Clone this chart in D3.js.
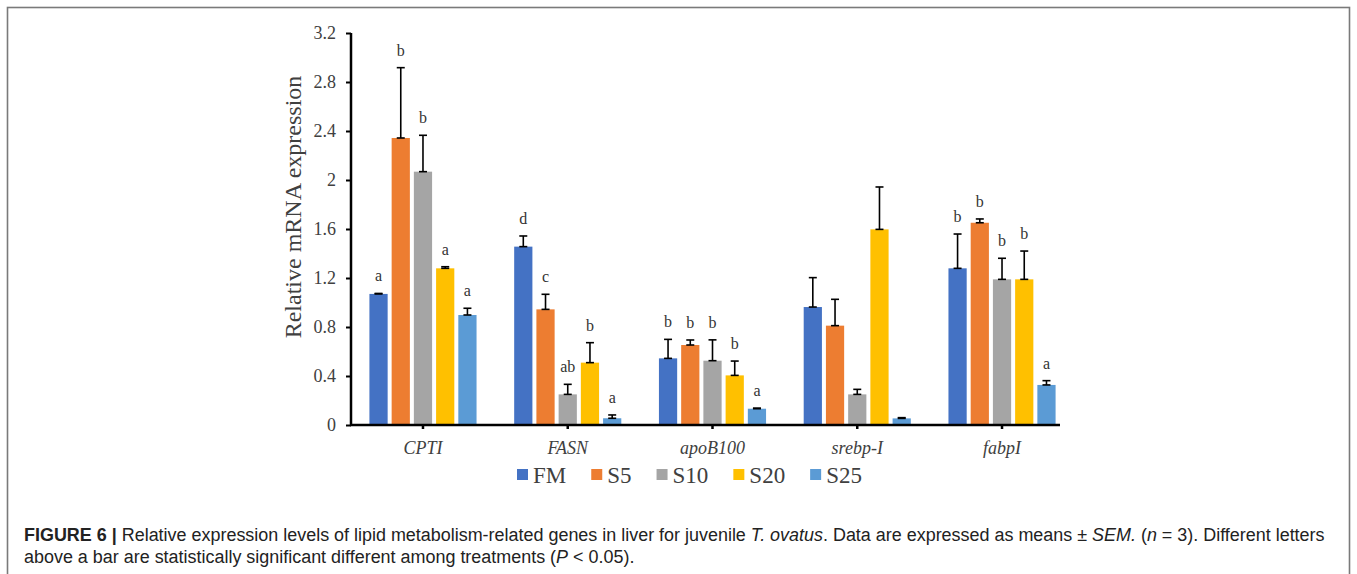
<!DOCTYPE html>
<html>
<head>
<meta charset="utf-8">
<script src="https://cdn.jsdelivr.net/npm/d3@7"></script>
<style>
  body { margin: 0; background: #fff; }
  svg { display: block; }
</style>
</head>
<body>
<script>
const WIDTH = 1357;
const HEIGHT = 574;

var genes = ['CPTI', 'FASN', 'apoB100', 'srebp-I', 'fabpI'];
var groups = ['FM', 'S5', 'S10', 'S20', 'S25'];
var colors = ['#4472C4', '#ED7D31', '#A5A5A5', '#FFC000', '#5B9BD5'];
var yTicks = [0, 0.4, 0.8, 1.2, 1.6, 2, 2.4, 2.8, 3.2];

// means per treatment, in gene order
var fmMeans  = [1.07, 1.456, 0.544, 0.963, 1.279];
var s5Means  = [2.343, 0.944, 0.653, 0.811, 1.651];
var s10Means = [2.068, 0.25, 0.525, 0.25, 1.189];
var s20Means = [1.279, 0.509, 0.405, 1.597, 1.189];
var s25Means = [0.898, 0.055, 0.133, 0.054, 0.327];

// SEM per treatment
var fmErr  = [0.004, 0.087, 0.155, 0.24, 0.28];
var s5Err  = [0.574, 0.123, 0.041, 0.215, 0.031];
var s10Err = [0.297, 0.082, 0.17, 0.041, 0.172];
var s20Err = [0.013, 0.163, 0.117, 0.346, 0.231];
var s25Err = [0.055, 0.027, 0.005, 0.006, 0.035];

// significance letters per gene (FM..S25)
var cptiLetters  = ['a', 'b', 'b', 'a', 'a'];
var fasnLetters  = ['d', 'c', 'ab', 'b', 'a'];
var apobLetters  = ['b', 'b', 'b', 'b', 'a'];
var srebpLetters = ['', '', '', '', ''];
var fabpLetters  = ['b', 'b', 'b', 'b', 'a'];

var means = [fmMeans, s5Means, s10Means, s20Means, s25Means];
var errs = [fmErr, s5Err, s10Err, s20Err, s25Err];
var letters = [cptiLetters, fasnLetters, apobLetters, srebpLetters, fabpLetters];

var serif = '"Liberation Serif", "Times New Roman", serif';
var sans = '"Liberation Sans", Arial, Helvetica, sans-serif';

var svg = d3.select('body').append('svg')
    .attr('width', WIDTH)
    .attr('height', HEIGHT);

// figure frame
svg.append('rect')
    .attr('x', 7.5).attr('y', 7.5)
    .attr('width', 1342).attr('height', 620)
    .attr('fill', 'none')
    .attr('stroke', '#7a7a7a')
    .attr('stroke-width', 1.6);

var x0 = d3.scaleBand()
    .domain(genes)
    .range([350.6, 1074.4])
    .paddingInner(0.26)
    .paddingOuter(0.13);

var x1 = d3.scaleBand()
    .domain(groups)
    .range([0, x0.bandwidth()])
    .paddingInner(0.18);

var y = d3.scaleLinear()
    .domain([0, 3.2])
    .range([425, 33]);

var rows = [];
genes.forEach(function(g, gi) {
    groups.forEach(function(s, si) {
        rows.push({gene: g, group: s, si: si, v: means[si][gi], e: errs[si][gi], l: letters[gi][si]});
    });
});

var plot = svg.append('g');

// bars
plot.selectAll('rect.bar')
    .data(rows)
    .enter()
    .append('rect')
    .attr('class', 'bar')
    .attr('x', function(d) { return x0(d.gene) + x1(d.group); })
    .attr('width', x1.bandwidth())
    .attr('y', function(d) { return y(d.v); })
    .attr('height', function(d) { return y(0) - y(d.v); })
    .attr('fill', function(d) { return colors[d.si]; });

// error bars (upper only, with caps)
var eb = plot.selectAll('g.err')
    .data(rows)
    .enter()
    .append('g')
    .attr('class', 'err')
    .attr('stroke', '#000')
    .attr('stroke-width', 1.6);

var cx = function(d) { return x0(d.gene) + x1(d.group) + x1.bandwidth() / 2; };

eb.append('line')
    .attr('x1', cx).attr('x2', cx)
    .attr('y1', function(d) { return y(d.v); })
    .attr('y2', function(d) { return y(d.v + d.e); });
eb.append('line')
    .attr('x1', function(d) { return cx(d) - 4; })
    .attr('x2', function(d) { return cx(d) + 4; })
    .attr('y1', function(d) { return y(d.v + d.e); })
    .attr('y2', function(d) { return y(d.v + d.e); });
eb.append('line')
    .attr('x1', function(d) { return cx(d) - 4; })
    .attr('x2', function(d) { return cx(d) + 4; })
    .attr('y1', function(d) { return y(d.v); })
    .attr('y2', function(d) { return y(d.v); });

// significance letters
plot.selectAll('text.sig')
    .data(rows.filter(function(d) { return d.l; }))
    .enter()
    .append('text')
    .attr('class', 'sig')
    .attr('x', cx)
    .attr('y', function(d) { return y(d.v + d.e) - 12; })
    .attr('text-anchor', 'middle')
    .style('font-family', serif)
    .style('font-size', '16px')
    .attr('fill', '#333')
    .text(function(d) { return d.l; });

// y axis
var yAxis = svg.append('g')
    .attr('transform', 'translate(351,0)')
    .call(d3.axisLeft(y).tickValues(yTicks).tickSize(5).tickPadding(10)
        .tickFormat(function(d) { return String(d); }));
yAxis.select('.domain').attr('stroke', '#000').attr('stroke-width', 2.5)
    .attr('d', 'M0,' + y(3.2) + 'V' + y(0));
yAxis.selectAll('.tick line').attr('stroke', '#000').attr('stroke-width', 2);
yAxis.selectAll('.tick text')
    .style('font-family', serif)
    .style('font-size', '18px')
    .attr('fill', '#404040');

// x axis
var xAxis = svg.append('g')
    .attr('transform', 'translate(0,425)')
    .call(d3.axisBottom(x0).tickSize(4).tickPadding(12).tickSizeOuter(0));
xAxis.select('.domain').attr('stroke', '#000').attr('stroke-width', 2.5)
    .attr('d', 'M350,0H1060');
xAxis.selectAll('.tick line').attr('stroke', '#000').attr('stroke-width', 2.5);
xAxis.selectAll('.tick text')
    .style('font-family', serif)
    .style('font-style', 'italic')
    .style('font-size', '18px')
    .attr('fill', '#404040');

// y axis title
svg.append('text')
    .attr('transform', 'translate(301,207) rotate(-90)')
    .attr('text-anchor', 'middle')
    .style('font-family', serif)
    .style('font-size', '24px')
    .attr('fill', '#404040')
    .text('Relative mRNA expression');

// legend
var legend = svg.append('g').attr('transform', 'translate(517,475)');
var lx = 0;
groups.forEach(function(s, i) {
    var item = legend.append('g').attr('transform', 'translate(' + lx + ',0)');
    item.append('rect')
        .attr('x', 0).attr('y', -6)
        .attr('width', 11).attr('height', 11)
        .attr('fill', colors[i]);
    var t = item.append('text')
        .attr('x', 16).attr('y', 7.5)
        .style('font-family', serif)
        .style('font-size', '23px')
        .attr('fill', '#404040')
        .text(s);
    lx += 16 + t.node().getComputedTextLength() + 25;
});

// caption
var cap1 = svg.append('text')
    .attr('x', 24).attr('y', 541)
    .style('font-family', sans)
    .style('font-size', '16px')
    .attr('fill', '#222');
cap1.append('tspan').style('font-weight', 'bold').text('FIGURE 6 |');
cap1.append('tspan').text(' Relative expression levels of lipid metabolism-related genes in liver for juvenile ');
cap1.append('tspan').style('font-style', 'italic').text('T. ovatus');
cap1.append('tspan').text('. Data are expressed as means \u00B1 ');
cap1.append('tspan').style('font-style', 'italic').text('SEM.');
cap1.append('tspan').text(' (');
cap1.append('tspan').style('font-style', 'italic').text('n');
cap1.append('tspan').text(' = 3). Different letters');

var cap2 = svg.append('text')
    .attr('x', 24).attr('y', 563)
    .style('font-family', sans)
    .style('font-size', '16px')
    .attr('fill', '#222');
cap2.append('tspan').text('above a bar are statistically significant different among treatments (');
cap2.append('tspan').style('font-style', 'italic').text('P');
cap2.append('tspan').text(' < 0.05).');

// fit caption line 1 to the frame width as in the original
var w1 = cap1.node().getComputedTextLength();
var fs = 16 * 1301 / w1;
cap1.style('font-size', fs + 'px');
cap2.style('font-size', fs + 'px');
</script>
</body>
</html>
